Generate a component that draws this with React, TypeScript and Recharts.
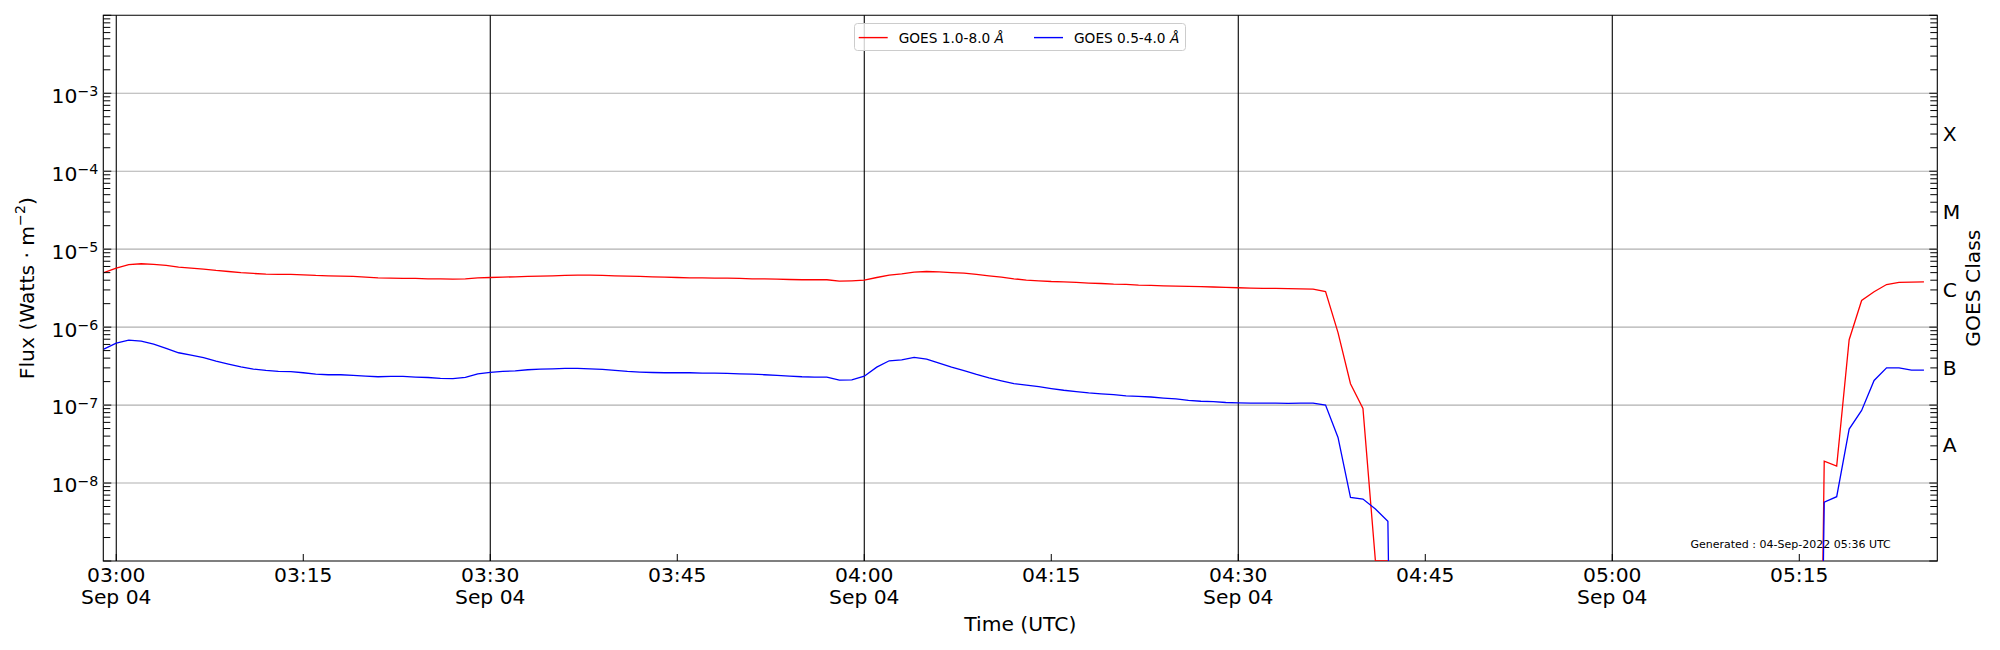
import React from "react";
import {
  LineChart,
  Line,
  XAxis,
  YAxis,
  ReferenceLine,
  ReferenceArea,
  Legend,
} from "recharts";

const FONT = '"DejaVu Sans", sans-serif';
const BELOW = 1e-20; // flux at/below zero: matplotlib clips it off the log axis

// minutes after 03:00 UT on 04-Sep-2022 (1-min averages)
const MINUTES = [
  -1, 0, 1, 2, 3, 4, 5, 6, 7, 8, 9,
  10, 11, 12, 13, 14, 15, 16, 17, 18, 19,
  20, 21, 22, 23, 24, 25, 26, 27, 28, 29,
  30, 31, 32, 33, 34, 35, 36, 37, 38, 39,
  40, 41, 42, 43, 44, 45, 46, 47, 48, 49,
  50, 51, 52, 53, 54, 55, 56, 57, 58, 59,
  60, 61, 62, 63, 64, 65, 66, 67, 68, 69,
  70, 71, 72, 73, 74, 75, 76, 77, 78, 79,
  80, 81, 82, 83, 84, 85, 86, 87, 88, 89,
  90, 91, 92, 93, 94, 95, 96, 97, 98, 99,
  100, 101, 102, 103, 104,
  136, 137, 138, 139, 140, 141, 142, 143, 144, 145,
];

// GOES 1.0-8.0 Å (W m^-2)
const XRS_LONG = [
  5.0e-6, 5.7e-6, 6.35e-6, 6.5e-6, 6.4e-6, 6.18e-6, 5.88e-6, 5.7e-6, 5.55e-6, 5.33e-6, 5.17e-6,
  5.0e-6, 4.88e-6, 4.78e-6, 4.74e-6, 4.74e-6, 4.69e-6, 4.6e-6, 4.55e-6, 4.5e-6, 4.47e-6,
  4.38e-6, 4.29e-6, 4.25e-6, 4.21e-6, 4.21e-6, 4.17e-6, 4.17e-6, 4.12e-6, 4.17e-6, 4.29e-6,
  4.33e-6, 4.38e-6, 4.42e-6, 4.47e-6, 4.5e-6, 4.55e-6, 4.6e-6, 4.64e-6, 4.64e-6, 4.6e-6,
  4.55e-6, 4.5e-6, 4.47e-6, 4.42e-6, 4.38e-6, 4.33e-6, 4.29e-6, 4.29e-6, 4.25e-6, 4.25e-6,
  4.21e-6, 4.17e-6, 4.17e-6, 4.12e-6, 4.08e-6, 4.05e-6, 4.05e-6, 4.05e-6, 3.89e-6, 3.93e-6,
  4.0e-6, 4.33e-6, 4.64e-6, 4.83e-6, 5.07e-6, 5.17e-6, 5.12e-6, 5.0e-6, 4.92e-6, 4.74e-6,
  4.55e-6, 4.38e-6, 4.17e-6, 4.01e-6, 3.93e-6, 3.85e-6, 3.81e-6, 3.74e-6, 3.67e-6, 3.63e-6,
  3.56e-6, 3.53e-6, 3.46e-6, 3.43e-6, 3.39e-6, 3.36e-6, 3.33e-6, 3.3e-6, 3.27e-6, 3.23e-6,
  3.2e-6, 3.17e-6, 3.15e-6, 3.14e-6, 3.12e-6, 3.1e-6, 3.08e-6, 2.85e-6, 8.5e-7, 1.88e-7,
  9.06e-8, 1e-9, 1e-9, BELOW, null,
  BELOW, 1.91e-8, 1.65e-8, 6.9e-7, 2.2e-6, 2.84e-6, 3.52e-6, 3.74e-6, 3.78e-6, 3.81e-6,
];

// GOES 0.5-4.0 Å (W m^-2)
const XRS_SHORT = [
  5.22e-7, 6.24e-7, 6.81e-7, 6.62e-7, 6.05e-7, 5.33e-7, 4.69e-7, 4.38e-7, 4.05e-7, 3.67e-7, 3.36e-7,
  3.1e-7, 2.9e-7, 2.78e-7, 2.7e-7, 2.68e-7, 2.6e-7, 2.5e-7, 2.45e-7, 2.45e-7, 2.4e-7,
  2.35e-7, 2.31e-7, 2.33e-7, 2.33e-7, 2.29e-7, 2.26e-7, 2.2e-7, 2.18e-7, 2.26e-7, 2.52e-7,
  2.62e-7, 2.7e-7, 2.75e-7, 2.84e-7, 2.9e-7, 2.92e-7, 2.95e-7, 2.95e-7, 2.92e-7, 2.87e-7,
  2.78e-7, 2.7e-7, 2.65e-7, 2.62e-7, 2.6e-7, 2.6e-7, 2.6e-7, 2.57e-7, 2.57e-7, 2.55e-7,
  2.52e-7, 2.5e-7, 2.45e-7, 2.4e-7, 2.35e-7, 2.31e-7, 2.29e-7, 2.29e-7, 2.09e-7, 2.11e-7,
  2.35e-7, 3.07e-7, 3.7e-7, 3.8e-7, 4.08e-7, 3.89e-7, 3.46e-7, 3.07e-7, 2.76e-7, 2.47e-7,
  2.24e-7, 2.05e-7, 1.88e-7, 1.8e-7, 1.72e-7, 1.63e-7, 1.55e-7, 1.49e-7, 1.43e-7, 1.39e-7,
  1.36e-7, 1.31e-7, 1.29e-7, 1.27e-7, 1.23e-7, 1.2e-7, 1.15e-7, 1.12e-7, 1.11e-7, 1.08e-7,
  1.07e-7, 1.06e-7, 1.06e-7, 1.06e-7, 1.05e-7, 1.06e-7, 1.06e-7, 1.0e-7, 3.85e-8, 6.55e-9,
  6.23e-9, 4.65e-9, 3.23e-9, BELOW, null,
  BELOW, 5.7e-9, 6.68e-9, 4.92e-8, 8.55e-8, 2.07e-7, 3.01e-7, 3.01e-7, 2.81e-7, 2.81e-7,
];

const X_DOMAIN = [-1.04, 146.07];
const TICK_MIN = [0, 15, 30, 45, 60, 75, 90, 105, 120, 135];
const TICK_TIME = ["03:00", "03:15", "03:30", "03:45", "04:00", "04:15", "04:30", "04:45", "05:00", "05:15"];
const TICK_DATE = ["Sep 04", "", "Sep 04", "", "Sep 04", "", "Sep 04", "", "Sep 04", ""];

const Y_DOMAIN = [1e-9, 1e-2];
const DECADES = [1e-9, 1e-8, 1e-7, 1e-6, 1e-5, 1e-4, 1e-3, 1e-2];
const LABELLED_EXP = [-8, -7, -6, -5, -4, -3];
const CLASS_NAMES = ["A", "B", "C", "M", "X"];
const CLASS_EXP = [-7.5, -6.5, -5.5, -4.5, -3.5];

const minorTicks = DECADES.slice(0, -1).flatMap((d) =>
  [2, 3, 4, 5, 6, 7, 8, 9].map((m) => m * d)
);
const LEFT_TICKS = [...DECADES, ...minorTicks];
const CLASS_TICKS = CLASS_EXP.map((e) => Math.pow(10, e));
const RIGHT_TICKS = [...LEFT_TICKS, ...CLASS_TICKS];

const rows = MINUTES.map((t, i) => ({ t, long: XRS_LONG[i], short: XRS_SHORT[i] }));

const near = (a: number, b: number) => Math.abs(a / b - 1) < 1e-6;
const isDecade = (v: number) => DECADES.some((d) => near(v, d));

function TimeTick(props: any) {
  const { x, y, payload } = props;
  const i = TICK_MIN.indexOf(payload.value);
  return (
    <g>
      <line x1={x} x2={x} y1={y} y2={y - 7} stroke="#000" strokeWidth={1} />
      <text x={x} y={y + 20.7} textAnchor="middle" fontSize={20.3} fontFamily={FONT} fill="#000">
        {TICK_TIME[i]}
      </text>
      {TICK_DATE[i] ? (
        <text x={x} y={y + 43.3} textAnchor="middle" fontSize={20.3} fontFamily={FONT} fill="#000">
          {TICK_DATE[i]}
        </text>
      ) : null}
    </g>
  );
}

function FluxTick(props: any) {
  const { x, y, payload } = props;
  const v = payload.value;
  const major = isDecade(v);
  const exp = Math.round(Math.log10(v));
  const show = major && LABELLED_EXP.includes(exp);
  return (
    <g>
      <line x1={x} x2={x + (major ? 8 : 7)} y1={y} y2={y} stroke="#000" strokeWidth={1} />
      {show ? (
        <text x={x - 5} y={y + 9.4} textAnchor="end" fontSize={20.3} fontFamily={FONT} fill="#000">
          10
          <tspan dy={-6.7} fontSize={14.2}>{"\u2212" + Math.abs(exp)}</tspan>
        </text>
      ) : null}
    </g>
  );
}

function ClassTick(props: any) {
  const { x, y, payload } = props;
  const v = payload.value;
  const c = CLASS_TICKS.findIndex((k) => near(v, k));
  if (c >= 0) {
    return (
      <text x={x + 5.4} y={y + 8.4} textAnchor="start" fontSize={20.3} fontFamily={FONT} fill="#000">
        {CLASS_NAMES[c]}
      </text>
    );
  }
  const major = isDecade(v);
  return <line x1={x} x2={x - (major ? 8 : 7)} y1={y} y2={y} stroke="#000" strokeWidth={1} />;
}

function FluxTitle(props: any) {
  const vb = props.viewBox;
  const cx = vb.x + vb.width - 76;
  const cy = vb.y + vb.height / 2;
  return (
    <text
      x={cx}
      y={cy}
      transform={`rotate(-90, ${cx}, ${cy})`}
      textAnchor="middle"
      dominantBaseline="central"
      fontSize={20.3}
      fontFamily={FONT}
      fill="#000"
    >
      Flux (Watts · m
      <tspan dy={-7} fontSize={14.2}>{"\u22122"}</tspan>
      <tspan dy={7}>)</tspan>
    </text>
  );
}

function ClassTitle(props: any) {
  const vb = props.viewBox;
  const cx = vb.x + 36;
  const cy = vb.y + vb.height / 2;
  return (
    <text
      x={cx}
      y={cy}
      transform={`rotate(-90, ${cx}, ${cy})`}
      textAnchor="middle"
      dominantBaseline="central"
      fontSize={20.3}
      fontFamily={FONT}
      fill="#000"
    >
      GOES Class
    </text>
  );
}

function TimeTitle(props: any) {
  const vb = props.viewBox;
  return (
    <g>
      <text
        x={vb.x + vb.width / 2}
        y={vb.y + 70}
        textAnchor="middle"
        fontSize={20.3}
        fontFamily={FONT}
        fill="#000"
      >
        Time (UTC)
      </text>
      <text
        x={vb.x + vb.width * 0.9746}
        y={vb.y - 13}
        textAnchor="end"
        fontSize={11}
        fontFamily={FONT}
        fill="#000"
      >
        Generated : 04-Sep-2022 05:36 UTC
      </text>
    </g>
  );
}

function LegendBox() {
  const entries = [
    { color: "#ff0000", label: "GOES 1.0-8.0 ", x0: 4.7, tx: 44.7 },
    { color: "#0000ff", label: "GOES 0.5-4.0 ", x0: 180, tx: 220 },
  ];
  return (
    <svg width={332} height={28} style={{ display: "block" }}>
      <rect x={0.5} y={0.5} width={331} height={27} rx={3} fill="rgba(255,255,255,0.8)" stroke="#cccccc" />
      {entries.map((e) => (
        <g key={e.label}>
          <line x1={e.x0} x2={e.x0 + 29} y1={14.6} y2={14.6} stroke={e.color} strokeWidth={1.4} />
          <text x={e.tx} y={19.5} fontSize={13.7} fontFamily={FONT} fill="#000">
            {e.label}
            <tspan fontStyle="italic">Å</tspan>
          </text>
        </g>
      ))}
    </svg>
  );
}

export default function App() {
  return (
    <div
      style={{
        position: "absolute",
        left: 0,
        top: 0,
        width: 2000,
        height: 650,
        background: "#fff",
        fontFamily: FONT,
      }}
    >
      <LineChart
        width={2000}
        height={650}
        data={rows}
        margin={{ top: 15.3, right: 22.7, bottom: 29, left: 43.3 }}
      >
        <XAxis
          dataKey="t"
          type="number"
          domain={X_DOMAIN}
          allowDataOverflow
          ticks={TICK_MIN}
          interval={0}
          height={60}
          tickSize={0}
          tickMargin={0}
          tickLine={false}
          axisLine={false}
          tick={<TimeTick />}
          label={(p: any) => <TimeTitle {...p} />}
        />
        <YAxis
          yAxisId="left"
          scale="log"
          type="number"
          domain={Y_DOMAIN}
          allowDataOverflow
          ticks={LEFT_TICKS}
          interval={0}
          width={60}
          tickSize={0}
          tickMargin={0}
          tickLine={false}
          axisLine={false}
          tick={<FluxTick />}
          label={(p: any) => <FluxTitle {...p} />}
        />
        <YAxis
          yAxisId="right"
          orientation="right"
          scale="log"
          type="number"
          domain={Y_DOMAIN}
          allowDataOverflow
          ticks={RIGHT_TICKS}
          interval={0}
          width={40}
          tickSize={0}
          tickMargin={0}
          tickLine={false}
          axisLine={false}
          tick={<ClassTick />}
          label={(p: any) => <ClassTitle {...p} />}
        />
        {LABELLED_EXP.map((e) => (
          <ReferenceLine
            key={"h" + e}
            yAxisId="left"
            y={Math.pow(10, e)}
            stroke="#b0b0b0"
            strokeWidth={1.1}
          />
        ))}
        {TICK_MIN.filter((_, i) => TICK_DATE[i]).map((m) => (
          <ReferenceLine key={"v" + m} yAxisId="left" x={m} stroke="#000" strokeWidth={1.1} />
        ))}
        <Line
          yAxisId="left"
          dataKey="long"
          name="GOES 1.0-8.0 Å"
          type="linear"
          stroke="#ff0000"
          strokeWidth={1.3}
          dot={false}
          activeDot={false}
          connectNulls={false}
          isAnimationActive={false}
        />
        <Line
          yAxisId="left"
          dataKey="short"
          name="GOES 0.5-4.0 Å"
          type="linear"
          stroke="#0000ff"
          strokeWidth={1.3}
          dot={false}
          activeDot={false}
          connectNulls={false}
          isAnimationActive={false}
        />
        <ReferenceArea
          yAxisId="left"
          x1={X_DOMAIN[0]}
          x2={X_DOMAIN[1]}
          y1={Y_DOMAIN[0]}
          y2={Y_DOMAIN[1]}
          fill="none"
          fillOpacity={0}
          stroke="#000"
          strokeWidth={1.1}
        />
        <Legend
          layout="vertical"
          align="center"
          verticalAlign="middle"
          wrapperStyle={{ left: 854.3, top: 22.7, width: 332, height: 28 }}
          content={() => <LegendBox />}
        />
      </LineChart>
    </div>
  );
}
